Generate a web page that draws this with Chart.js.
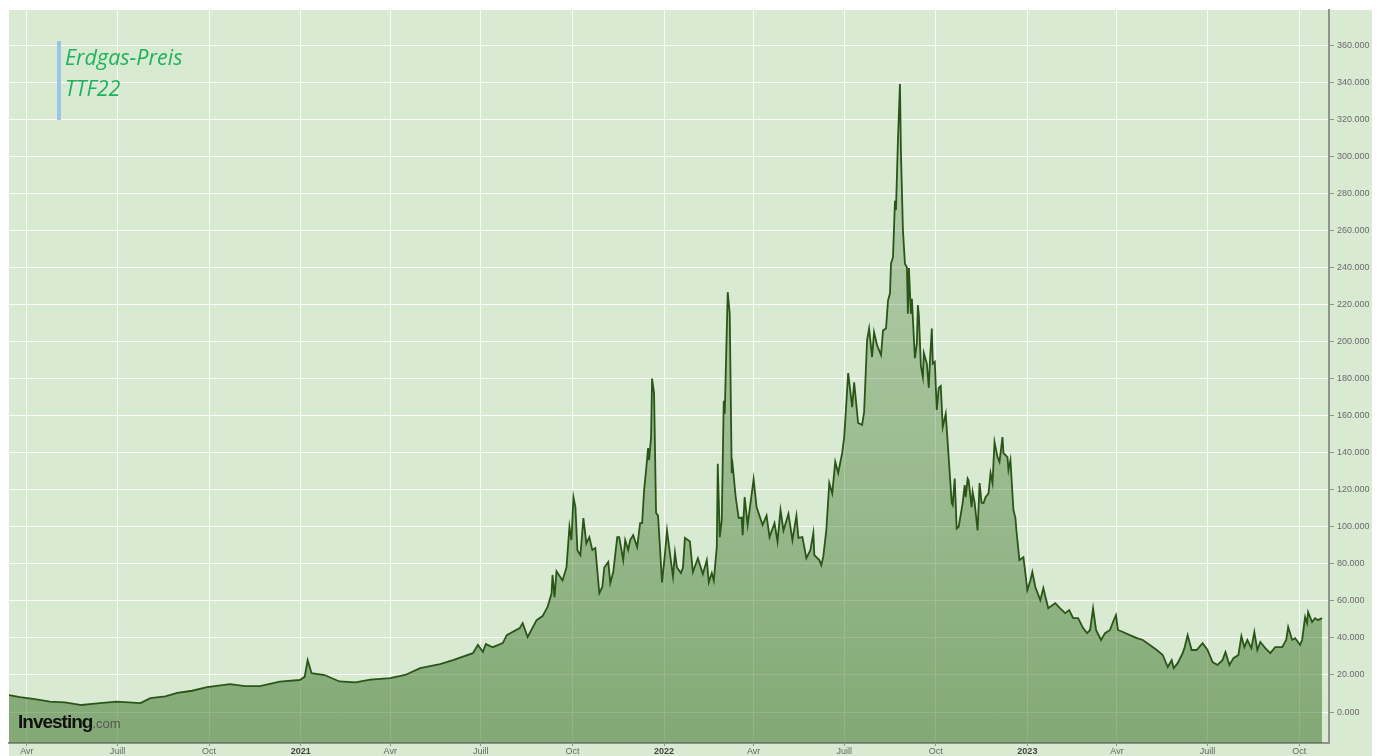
<!DOCTYPE html>
<html lang="de">
<head>
    <meta charset="UTF-8">
    <title>Erdgas-Preis TTF22</title>
    <script src="https://cdn.jsdelivr.net/npm/chart.js"></script>
    <style>
        * { margin: 0; padding: 0; box-sizing: border-box; }
        body { width: 1381px; height: 756px; background: #fff; overflow: hidden; position: relative; font-family: 'Liberation Sans', Arial, sans-serif; }
        .panel { position: absolute; left: 9px; top: 10px; width: 1363px; height: 746px; background: #d9ead3; }
        #chart { position: absolute; left: 0; top: 0; }
        .title { position: absolute; left: 57px; top: 41px; border-left: 4px solid #9dc3e6; padding-left: 4px; height: 79px; font-family: 'Open Sans', sans-serif; font-style: italic; font-size: 21.5px; line-height: 31px; color: #1fb25a; }
        .logo { position: absolute; left: 18px; top: 711px; font-weight: 700; font-size: 19px; letter-spacing: -1px; color: #111; }
        .logo span { font-weight: 400; font-size: 13px; letter-spacing: 0; color: #555; }
    </style>
</head>
<body>

<div class="panel"></div>
<canvas id="chart" width="1381" height="756"></canvas>
<div class="title">Erdgas-Preis<br>TTF22</div>
<div class="logo">Investing<span>.com</span></div>

<script>
    // days counted from 1 Apr 2020, prices in EUR/MWh
    const days = [-18, -7, 8, 23, 38, 55, 68, 90, 114, 124, 139, 151, 166, 181, 204, 219, 234, 254, 274, 279,
        282, 286, 299, 314, 330, 345, 365, 380, 395, 415, 428, 448, 453, 458, 461, 468, 478, 482, 495, 498,
        503, 512, 518, 523, 527, 528, 530, 532, 538, 542, 545, 547, 549, 551, 553, 556, 559, 562, 565, 568,
        571, 575, 578, 580, 584, 586, 589, 593, 595, 599, 601, 604, 606, 609, 613, 616, 618, 620, 622, 624,
        625, 627, 628, 630, 632, 634, 638, 641, 643, 649, 651, 653, 657, 659, 661, 666, 669, 674, 679, 683,
        685, 688, 690, 693, 694, 696, 698, 700, 701, 704, 706, 708, 709, 712, 715, 718, 719, 721, 724, 730,
        733, 739, 743, 746, 751, 754, 757, 760, 765, 769, 773, 775, 779, 783, 787, 790, 791, 796, 798, 800,
        803, 806, 809, 812, 815, 819, 821, 825, 829, 831, 835, 839, 841, 844, 846, 849, 851, 854, 858, 860,
        863, 865, 867, 868, 870, 872, 873, 875, 877, 878, 880, 882, 884, 885, 886, 888, 889, 892, 894, 895,
        896, 898, 900, 901, 904, 906, 907, 909, 910, 912, 914, 916, 918, 920, 923, 925, 929, 930, 932, 934,
        936, 940, 942, 943, 945, 946, 949, 950, 952, 955, 957, 959, 961, 963, 966, 968, 970, 971, 972, 975,
        977, 980, 981, 985, 986, 988, 991, 993, 994, 997, 1001, 1003, 1005, 1008, 1010, 1013, 1018, 1021, 1026, 1033,
        1038, 1043, 1047, 1051, 1056, 1061, 1065, 1068, 1071, 1074, 1079, 1083, 1088, 1091, 1094, 1096, 1101, 1108, 1115, 1121,
        1128, 1135, 1141, 1146, 1150, 1152, 1156, 1161, 1163, 1166, 1170, 1175, 1181, 1186, 1191, 1196, 1201, 1204, 1208, 1212,
        1217, 1220, 1223, 1226, 1230, 1233, 1236, 1239, 1244, 1249, 1254, 1261, 1265, 1267, 1271, 1274, 1279, 1281, 1284, 1286,
        1287, 1291, 1294, 1297, 1301];
    const prices = [9.2, 8, 7, 5.6, 5.2, 3.8, 4.5, 5.6, 4.8, 7.5, 8.5, 10.4, 11.5, 13.4, 15.1, 14, 14, 16.4, 17.3, 19,
        28, 21, 20, 16.5, 16, 17.5, 18.3, 20, 23.7, 25.9, 28, 31.8, 36.2, 32.5, 36.7, 35, 37.2, 41.5, 45.3, 48,
        40.5, 49.6, 51.8, 56.7, 64, 74, 62, 76, 71, 78, 100, 92.8, 116, 110.6, 87.4, 84.7, 104.7, 91, 94.4, 87.4,
        88.5, 64.2, 67.5, 78, 81, 69.6, 75.6, 94.4, 94.4, 82, 92.8, 87.4, 92.8, 95.5, 89, 102, 102, 119.8, 130.6, 142.5,
        136, 148.4, 180, 172, 107.4, 106, 70, 85.8, 98, 73, 86, 78, 75, 78, 94, 92, 75.6, 83, 74.5, 82,
        70, 75, 71, 89, 134, 94.4, 103.6, 168, 161, 226.6, 215, 129, 133, 116, 104.7, 105, 95.5, 116, 101, 125.7,
        110.6, 101, 106, 94.4, 102, 92, 109, 98, 107, 92.8, 106, 94, 94.4, 83, 87.4, 96.6, 84.7, 82, 79.3, 84,
        98, 123.6, 118, 135, 129, 140, 148.4, 183, 164.6, 178, 156, 155, 162, 200.8, 207, 191.6, 205, 198, 192.7, 206,
        207, 222, 226, 242, 245.5, 276, 271, 308.7, 339, 301.7, 260, 242, 240, 215, 239.6, 215, 223, 191, 199, 219.6,
        214, 187, 180.8, 193.7, 188, 175, 188, 207, 188, 189, 163, 175, 176, 153.8, 161, 145, 112.8, 111.7, 126, 99,
        100, 112.8, 122.5, 116, 126, 125, 110.6, 118.7, 113, 98, 123.6, 113, 112.8, 116, 118, 129, 123.6, 135, 145.7, 137.6,
        135, 148.4, 139.8, 137.6, 130.6, 136, 109, 104.7, 98, 82, 83.6, 75, 65.8, 71, 75.6, 67.5, 60.4, 66.9, 56, 58.8,
        56, 53.4, 55, 50.7, 50.7, 45.3, 42.6, 44.3, 56, 44.3, 38.9, 42.6, 44.3, 48.6, 52.3, 44.3, 43.2, 41.5, 39.9, 38.9,
        36.2, 33.5, 30.8, 24.3, 28, 23.7, 26.4, 31.8, 35, 41.5, 33.5, 33.5, 37.2, 33.5, 27, 25.4, 28, 32.4, 25.4, 29.1,
        30.8, 41, 35, 38.9, 34.5, 43.2, 33.5, 37.8, 34.5, 31.8, 35, 35, 38.9, 45.9, 38.9, 39.9, 36.2, 38.9, 51.3, 48,
        54, 48.6, 50.7, 49.6, 50.7];

    // x-axis labels (month starts, days from 1 Apr 2020)
    const tickDays = [0, 91, 183, 275, 365, 456, 548, 640, 730, 821, 913, 1005, 1095, 1186, 1278];
    const tickLabels = ['Avr', 'Juill', 'Oct', '2021', 'Avr', 'Juill', 'Oct', '2022', 'Avr', 'Juill', 'Oct', '2023', 'Avr', 'Juill', 'Oct'];
    const yTicks = [0, 20, 40, 60, 80, 100, 120, 140, 160, 180, 200, 220, 240, 260, 280, 300, 320, 340, 360];

    const points = days.map((d, i) => ({ x: d, y: prices[i] }));
    const isYear = (c) => !!(c && c.tick) && /^\d{4}$/.test(tickLabels[tickDays.indexOf(c.tick.value)] || '');

    function fillGradient(context) {
        const area = context.chart.chartArea;
        if (!area) return 'rgba(60,115,40,0.4)';
        const g = context.chart.ctx.createLinearGradient(0, area.top, 0, area.bottom);
        g.addColorStop(0, 'rgba(60,115,40,0.18)');
        g.addColorStop(0.4, 'rgba(60,115,40,0.3)');
        g.addColorStop(1, 'rgba(60,115,40,0.55)');
        return g;
    }

    new Chart(document.getElementById('chart'), {
        type: 'line',
        data: {
            datasets: [{
                data: points,
                borderColor: '#2a5518',
                borderWidth: 1.8,
                backgroundColor: fillGradient,
                fill: 'start',
                pointRadius: 0,
                tension: 0
            }]
        },
        options: {
            responsive: false,
            animation: false,
            devicePixelRatio: 1,
            layout: { padding: { left: 9, top: 10, right: 0, bottom: 0 } },
            plugins: { legend: { display: false }, tooltip: { enabled: false } },
            scales: {
                x: {
                    type: 'linear',
                    min: -18,
                    max: 1308,
                    afterBuildTicks: (axis) => { axis.ticks = tickDays.map(v => ({ value: v })); },
                    afterFit: (axis) => { axis.height = 13; },
                    border: { display: true, color: '#8f948c', width: 2 },
                    grid: { color: 'rgba(255,255,255,0.9)', lineWidth: 1, tickLength: 3, tickColor: '#8f948c' },
                    ticks: {
                        autoSkip: false,
                        maxRotation: 0,
                        padding: 0,
                        color: (c) => isYear(c) ? '#444' : '#666',
                        font: (c) => ({ family: 'Liberation Sans', size: 9, weight: isYear(c) ? 'bold' : 'normal' }),
                        callback: (v) => tickLabels[tickDays.indexOf(v)] || ''
                    }
                },
                y: {
                    position: 'right',
                    min: -16.7,
                    max: 378.9,
                    afterBuildTicks: (axis) => { axis.ticks = yTicks.map(v => ({ value: v })); },
                    afterFit: (axis) => { axis.width = 52; },
                    border: { display: true, color: '#8f948c', width: 2 },
                    grid: { color: 'rgba(255,255,255,0.9)', lineWidth: 1, tickLength: 5, tickColor: '#8f948c' },
                    ticks: {
                        padding: 3,
                        color: '#6a6a6a',
                        font: { family: 'Liberation Sans', size: 9 },
                        callback: (v) => v.toFixed(3)
                    }
                }
            }
        }
    });
</script>

</body>
</html>
